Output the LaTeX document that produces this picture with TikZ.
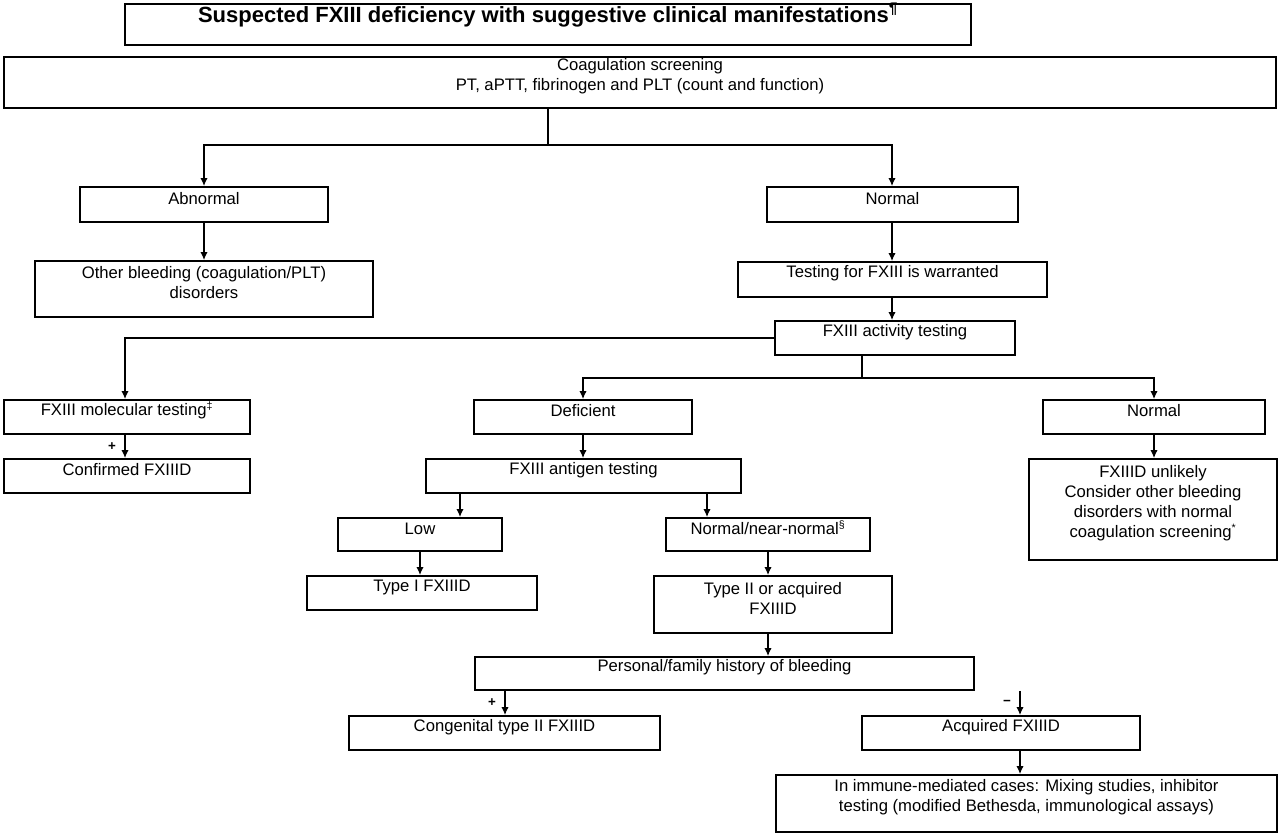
\documentclass[tikz,border=0pt]{standalone}
\usepackage{fontspec}
\setmainfont{Liberation Sans}
\usetikzlibrary{fit,arrows.meta}
\begin{document}
\begin{tikzpicture}[x=0.75pt,y=-0.75pt,
  bx/.style={draw,line width=1.3pt,inner sep=0pt,align=center,font=\fontsize{12.5}{15}\selectfont},
  arr/.style={line width=1.1pt,-{Latex[length=6pt,width=5.5pt]}},
  ln/.style={line width=1.1pt}]
\useasboundingbox (0,0) rectangle (1280,835);
\newcommand\mybox[6]{\node[bx,fit={(#2,#3)(#4,#5)}] (#1) {#6};}
\mybox{title}{125}{4}{971}{45}{\fontsize{16.5}{18}\selectfont\bfseries Suspected FXIII deficiency with suggestive clinical manifestations\textsuperscript{¶}}
\mybox{coag}{4}{57}{1276}{108}{Coagulation screening\\PT, aPTT, fibrinogen and PLT (count and function)}
\mybox{abn}{80}{187}{328}{222}{Abnormal}
\mybox{nor}{767}{187}{1018}{222}{Normal}
\mybox{oth}{35}{261}{373}{317}{Other bleeding (coagulation/PLT)\\disorders}
\mybox{tst}{738}{262}{1047}{297}{Testing for FXIII is warranted}
\mybox{act}{775}{321}{1015}{355}{FXIII activity testing}
\mybox{mol}{4}{400}{250}{434}{FXIII molecular testing\textsuperscript{\footnotesize ‡}}
\mybox{conf}{4}{459}{250}{493}{Confirmed FXIIID}
\mybox{def}{474}{400}{692}{434}{Deficient}
\mybox{nr}{1043}{400}{1265}{434}{Normal}
\mybox{ant}{426}{459}{741}{493}{FXIII antigen testing}
\mybox{unl}{1029}{459}{1277}{560}{FXIIID unlikely\\Consider other bleeding\\disorders with normal\\coagulation screening\textsuperscript{\footnotesize *}}
\mybox{low}{338}{518}{502}{551}{Low}
\mybox{nn}{666}{518}{870}{551}{Normal/near-normal\textsuperscript{\footnotesize §}}
\mybox{t1}{307}{576}{537}{610}{Type I FXIIID}
\mybox{t2}{654}{576}{892}{633}{Type II or acquired\\FXIIID}
\mybox{pers}{475}{657}{974}{690}{Personal/family history of bleeding}
\mybox{cong}{349}{716}{660}{750}{Congenital type II FXIIID}
\mybox{acq}{862}{716}{1140}{750}{Acquired FXIIID}
\mybox{imm}{776}{775}{1277}{832}{In immune-mediated cases: Mixing studies, inhibitor\\testing (modified Bethesda, immunological assays)}
\coordinate (j1) at (548,145);
\coordinate (xa) at (204,0); \coordinate (xn) at (892,0);
\coordinate (x125) at (125,0); \coordinate (x862) at (862,0);
\coordinate (j2) at (862,378);
\coordinate (x583) at (583,0); \coordinate (x1154) at (1154,0);
\coordinate (x460) at (460,0); \coordinate (x707) at (707,0);
\coordinate (x420) at (420,0); \coordinate (x768) at (768,0);
\coordinate (x505) at (505,0); \coordinate (x1020) at (1020,0);
\draw[ln] (coag.south -| j1) -- (j1);
\draw[arr] (j1) -| (abn.north -| xa);
\draw[arr] (j1) -| (nor.north -| xn);
\draw[arr] (abn.south -| xa) -- (oth.north -| xa);
\draw[arr] (nor.south -| xn) -- (tst.north -| xn);
\draw[arr] (tst.south -| xn) -- (act.north -| xn);
\draw[arr] (act.west) -| (mol.north -| x125);
\draw[ln] (act.south -| x862) -- (j2);
\draw[arr] (j2) -| (def.north -| x583);
\draw[arr] (j2) -| (nr.north -| x1154);
\draw[arr] (mol.south -| x125) -- node[left=3pt,font=\bfseries] {+} (conf.north -| x125);
\draw[arr] (def.south -| x583) -- (ant.north -| x583);
\draw[arr] (ant.south -| x460) -- (low.north -| x460);
\draw[arr] (ant.south -| x707) -- (nn.north -| x707);
\draw[arr] (nr.south -| x1154) -- (unl.north -| x1154);
\draw[arr] (low.south -| x420) -- (t1.north -| x420);
\draw[arr] (nn.south -| x768) -- (t2.north -| x768);
\draw[arr] (t2.south -| x768) -- (pers.north -| x768);
\draw[arr] (pers.south -| x505) -- node[left=3pt,font=\bfseries] {+} (cong.north -| x505);
\draw[arr] (pers.south -| x1020) -- node[left=3pt,font=\bfseries] {−} (acq.north -| x1020);
\draw[arr] (acq.south -| x1020) -- (imm.north -| x1020);
\end{tikzpicture}
\end{document}
